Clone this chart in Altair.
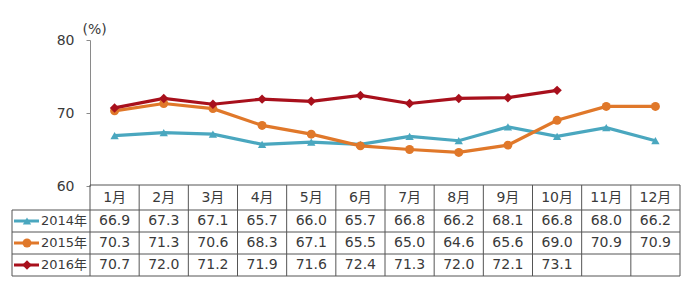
import altair as alt
import pandas as pd

months = list(range(1, 13))
month_labels = [f"{m}月" for m in months]
years = ["2014年", "2015年", "2016年"]
v2014 = [66.9, 67.3, 67.1, 65.7, 66.0, 65.7, 66.8, 66.2, 68.1, 66.8, 68.0, 66.2]
v2015 = [70.3, 71.3, 70.6, 68.3, 67.1, 65.5, 65.0, 64.6, 65.6, 69.0, 70.9, 70.9]
v2016 = [70.7, 72.0, 71.2, 71.9, 71.6, 72.4, 71.3, 72.0, 72.1, 73.1]
colors = ["#4aa7bf", "#e0782a", "#a8101c"]
shapes = ["triangle-up", "circle", "diamond"]
sizes = [70, 90, 55]
y_ticks = [60, 70, 80]

FONT = "DejaVu Sans, Noto Sans CJK SC, sans-serif"
TXT = "#3a3a3a"

rows = []
for yi, (yr, vals) in enumerate(zip(years, [v2014, v2015, v2016])):
    for m, v in zip(months, vals):
        rows.append({"year": yr, "month": m, "value": v, "label": f"{v:.1f}", "row": yi + 1.5})
df = pd.DataFrame(rows)

xscale = alt.Scale(domain=[0.5, 12.5], range=[78, 668], nice=False, zero=False)
yline = alt.Scale(domain=[60, 80], range=[146, 0], nice=False, zero=False)
ytab = alt.Scale(domain=[0, 1, 2, 3, 4], range=[145, 170, 192, 214, 236], nice=False, zero=False)
color = alt.Color("year:N", scale=alt.Scale(domain=years, range=colors), legend=None)
shape = alt.Shape("year:N", scale=alt.Scale(domain=years, range=shapes), legend=None)
size = alt.Size("year:N", scale=alt.Scale(domain=years, range=sizes), legend=None)

yaxis = alt.Axis(values=y_ticks, grid=False, offset=-78, domainColor="#8a8a8a",
                 tickColor="#8a8a8a", tickSize=4, labelFontSize=14, labelColor=TXT,
                 labelFont=FONT, labelPadding=12, title="(%)", titleAngle=0,
                 titleAlign="left", titleBaseline="bottom", titleX=-8, titleY=-4,
                 titleFontSize=14, titleFontWeight="normal", titleColor=TXT, titleFont=FONT)

base = alt.Chart(df)
lines = base.mark_line(strokeWidth=3.2).encode(
    x=alt.X("month:Q", scale=xscale, axis=None),
    y=alt.Y("value:Q", scale=yline, axis=yaxis),
    color=color,
)
points = base.mark_point(filled=True, opacity=1).encode(
    x=alt.X("month:Q", scale=xscale, axis=None),
    y=alt.Y("value:Q", scale=yline, axis=yaxis),
    color=color, shape=shape, size=size,
)
line_layer = alt.layer(lines, points)

# table structure
LEG_LEFT = 0.5 - 78 / (590 / 12)
hdf = pd.DataFrame({"b": [0, 1, 2, 3, 4], "x1": [0.5] * 5, "x2": [12.5] * 5})
hleg = pd.DataFrame({"b": [1, 2, 3, 4], "x1": [LEG_LEFT] * 4, "x2": [0.5] * 4})
vdf = pd.DataFrame({"x": [m - 0.5 for m in months] + [12.5], "b1": [0] * 13, "b2": [4] * 13})
vleg = pd.DataFrame({"x": [LEG_LEFT], "b1": [1], "b2": [4]})

rule_style = dict(color="#555", strokeWidth=1)
h_rules = alt.Chart(hdf).mark_rule(**rule_style).encode(
    x=alt.X("x1:Q", scale=xscale, axis=None), x2="x2:Q",
    y=alt.Y("b:Q", scale=ytab, axis=None))
h_leg = alt.Chart(hleg).mark_rule(**rule_style).encode(
    x=alt.X("x1:Q", scale=xscale, axis=None), x2="x2:Q",
    y=alt.Y("b:Q", scale=ytab, axis=None))
v_rules = alt.Chart(vdf).mark_rule(**rule_style).encode(
    x=alt.X("x:Q", scale=xscale, axis=None),
    y=alt.Y("b1:Q", scale=ytab, axis=None), y2="b2:Q")
v_leg = alt.Chart(vleg).mark_rule(**rule_style).encode(
    x=alt.X("x:Q", scale=xscale, axis=None),
    y=alt.Y("b1:Q", scale=ytab, axis=None), y2="b2:Q")

mdf = pd.DataFrame({"month": months, "label": month_labels, "row": [0.5] * 12})
month_text = alt.Chart(mdf).mark_text(font=FONT, fontSize=14, color=TXT, baseline="middle").encode(
    x=alt.X("month:Q", scale=xscale, axis=None),
    y=alt.Y("row:Q", scale=ytab, axis=None), text="label:N")
val_text = base.mark_text(font=FONT, fontSize=14, color=TXT, baseline="middle").encode(
    x=alt.X("month:Q", scale=xscale, axis=None),
    y=alt.Y("row:Q", scale=ytab, axis=None), text="label:N")

ldf = pd.DataFrame({"year": years, "row": [1.5, 2.5, 3.5]})
leg_line = alt.Chart(ldf).mark_rule(strokeWidth=3).encode(
    x=alt.value(2), x2=alt.value(27),
    y=alt.Y("row:Q", scale=ytab, axis=None), color=color)
leg_pt = alt.Chart(ldf).mark_point(filled=True, opacity=1).encode(
    x=alt.value(15), y=alt.Y("row:Q", scale=ytab, axis=None),
    color=color, shape=shape, size=size)
leg_text = alt.Chart(ldf).mark_text(font=FONT, fontSize=13, color=TXT, align="left",
                                      baseline="middle").encode(
    x=alt.value(29), y=alt.Y("row:Q", scale=ytab, axis=None), text="year:N")

table_layer = alt.layer(h_rules, h_leg, v_rules, v_leg, month_text, val_text,
                        leg_line, leg_pt, leg_text)

chart = alt.layer(line_layer, table_layer).resolve_scale(y="independent").properties(
    width=668, height=236,
    padding={"left": 12, "top": 40, "right": 20, "bottom": 5},
    autosize=alt.AutoSizeParams(type="none"),
    background="white",
).configure_view(stroke=None)

chart.save("out.html", embed_options={"renderer": "svg", "actions": False})
